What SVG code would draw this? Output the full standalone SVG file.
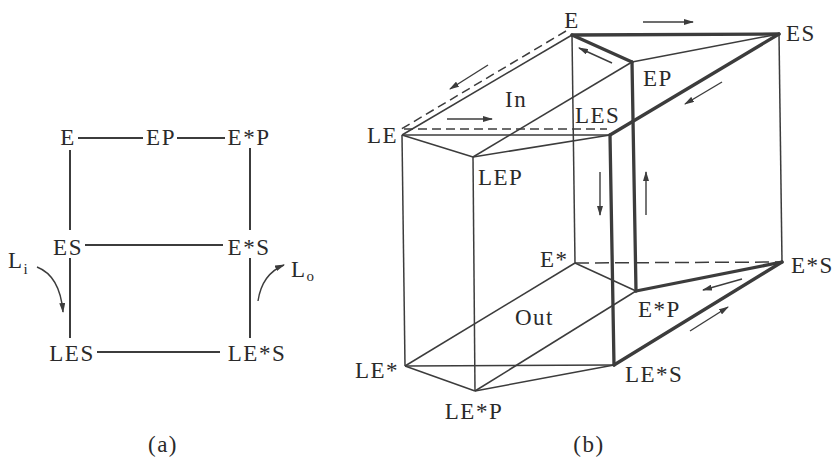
<svg xmlns="http://www.w3.org/2000/svg" width="835" height="460" viewBox="0 0 835 460">
<defs>
<style>
.t{font-family:"Liberation Serif","Times New Roman",serif;font-size:23px;fill:#2a2a2a;letter-spacing:1.5px}
.s{font-size:15px;letter-spacing:0}
.thin{stroke:#3c3c3c;stroke-width:1.5;fill:none}
.thick{stroke:#3c3c3c;stroke-width:3.3;fill:none;stroke-linejoin:round;stroke-linecap:round}
.d1{stroke:#3c3c3c;stroke-width:1.5;fill:none;stroke-dasharray:9 5}
.d2{stroke:#3c3c3c;stroke-width:1.5;fill:none;stroke-dasharray:14 6}
.a{stroke:#3c3c3c;stroke-width:1.4;fill:none;marker-end:url(#ah)}
.ea{stroke:#3c3c3c;stroke-width:2;fill:none}
</style>
<marker id="ah" viewBox="0 0 10 6" refX="9" refY="3" markerWidth="10" markerHeight="6" markerUnits="userSpaceOnUse" orient="auto">
<path d="M0,0 L10,3 L0,6 Z" fill="#3c3c3c"/>
</marker>
</defs>
<rect width="835" height="460" fill="#fff"/>

<!-- Part (a) -->
<g id="a-connectors">
<line class="ea" x1="78" y1="138" x2="143" y2="138"/>
<line class="ea" x1="177" y1="138" x2="225" y2="138"/>
<line class="ea" x1="70" y1="150" x2="70" y2="230"/>
<line class="ea" x1="250" y1="148" x2="250" y2="230"/>
<line class="ea" x1="85" y1="245" x2="223" y2="245"/>
<line class="ea" x1="70" y1="258" x2="70" y2="338"/>
<line class="ea" x1="250" y1="258" x2="250" y2="338"/>
<line class="ea" x1="97" y1="352" x2="220" y2="352"/>
<path class="a" d="M37,267 Q60,276 63,312"/>
<path class="a" d="M258,301 Q262,274 284,265"/>
</g>
<g id="a-E"><text class="t" x="68" y="145" text-anchor="middle">E</text></g>
<g id="a-EP"><text class="t" x="161" y="145" text-anchor="middle">EP</text></g>
<g id="a-EstarP"><text class="t" x="249" y="145" text-anchor="middle">E*P</text></g>
<g id="a-ES"><text class="t" x="68" y="255" text-anchor="middle">ES</text></g>
<g id="a-EstarS"><text class="t" x="249" y="255" text-anchor="middle">E*S</text></g>
<g id="a-LES"><text class="t" x="72" y="361" text-anchor="middle">LES</text></g>
<g id="a-LEstarS"><text class="t" x="257" y="361" text-anchor="middle">LE*S</text></g>
<g id="a-Li"><text class="t" x="8" y="268">L<tspan class="s" dy="6">i</tspan></text></g>
<g id="a-Lo"><text class="t" x="291" y="277">L<tspan class="s" dy="4">o</tspan></text></g>
<g id="a-caption"><text class="t" x="163" y="452" text-anchor="middle">(a)</text></g>

<!-- Part (b) -->
<g id="b-connectors">
<line class="thin" x1="572" y1="35" x2="402" y2="135"/>
<line class="thin" x1="402" y1="135" x2="610" y2="135"/>
<line class="thin" x1="402" y1="135" x2="473" y2="157"/>
<line class="thin" x1="473" y1="157" x2="610" y2="135"/>
<line class="thin" x1="632" y1="62" x2="473" y2="157"/>
<line class="thin" x1="632" y1="62" x2="779" y2="34"/>
<line class="thin" x1="572" y1="35" x2="575" y2="263"/>
<line class="thin" x1="779" y1="34" x2="782" y2="262"/>
<line class="thin" x1="402" y1="135" x2="405" y2="366"/>
<line class="thin" x1="473" y1="157" x2="475" y2="391"/>
<line class="thin" x1="575" y1="263" x2="405" y2="366"/>
<line class="thin" x1="575" y1="263" x2="636" y2="291"/>
<line class="thin" x1="405" y1="366" x2="614" y2="365"/>
<line class="thin" x1="405" y1="366" x2="475" y2="391"/>
<line class="thin" x1="475" y1="391" x2="614" y2="365"/>
<line class="thin" x1="475" y1="391" x2="636" y2="291"/>
<line class="d1" x1="566" y1="31" x2="398" y2="131"/>
<line class="d1" x1="404" y1="129" x2="607" y2="129"/>
<line class="d2" x1="575" y1="263" x2="782" y2="262"/>
<line class="thick" x1="572" y1="35" x2="779" y2="34"/>
<line class="thick" x1="572" y1="35" x2="632" y2="62"/>
<line class="thick" x1="779" y1="34" x2="610" y2="135"/>
<line class="thick" x1="632" y1="62" x2="636" y2="291"/>
<line class="thick" x1="610" y1="135" x2="614" y2="365"/>
<line class="thick" x1="636" y1="291" x2="782" y2="262"/>
<line class="thick" x1="782" y1="262" x2="614" y2="365"/>
<line class="a" x1="643" y1="22" x2="693" y2="22"/>
<line class="a" x1="612" y1="63" x2="579" y2="48"/>
<line class="a" x1="488" y1="65" x2="450" y2="89"/>
<line class="a" x1="447" y1="119" x2="492" y2="119"/>
<line class="a" x1="722" y1="82" x2="685" y2="104"/>
<line class="a" x1="600" y1="172" x2="600" y2="215"/>
<line class="a" x1="646" y1="215" x2="646" y2="172"/>
<line class="a" x1="742" y1="279" x2="703" y2="290"/>
<line class="a" x1="690" y1="331" x2="728" y2="307"/>
</g>
<g id="b-E"><text class="t" x="572" y="28" text-anchor="middle">E</text></g>
<g id="b-ES"><text class="t" x="786" y="41">ES</text></g>
<g id="b-EP"><text class="t" x="643" y="86">EP</text></g>
<g id="b-In"><text class="t" x="505" y="107">In</text></g>
<g id="b-LES"><text class="t" x="575" y="123">LES</text></g>
<g id="b-LE"><text class="t" x="398" y="143" text-anchor="end">LE</text></g>
<g id="b-LEP"><text class="t" x="478" y="185">LEP</text></g>
<g id="b-Estar"><text class="t" x="540" y="267">E*</text></g>
<g id="b-Out"><text class="t" x="515" y="325">Out</text></g>
<g id="b-EstarS"><text class="t" x="791" y="273">E*S</text></g>
<g id="b-EstarP"><text class="t" x="638" y="317">E*P</text></g>
<g id="b-LEstarS"><text class="t" x="625" y="382">LE*S</text></g>
<g id="b-LEstar"><text class="t" x="399" y="378" text-anchor="end">LE*</text></g>
<g id="b-LEstarP"><text class="t" x="474" y="419" text-anchor="middle">LE*P</text></g>
<g id="b-caption"><text class="t" x="589" y="452" text-anchor="middle">(b)</text></g>
</svg>
